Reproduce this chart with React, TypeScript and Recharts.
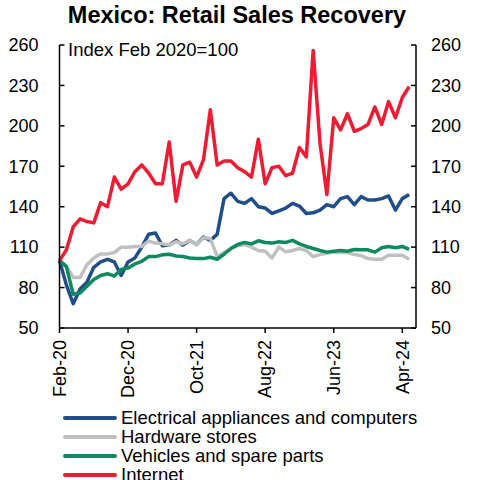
import React from 'react';
import { LineChart, Line, XAxis, YAxis } from 'recharts';

const months = [
  'Feb-20', 'Mar-20', 'Apr-20', 'May-20', 'Jun-20', 'Jul-20', 'Aug-20', 'Sep-20', 'Oct-20', 'Nov-20',
  'Dec-20', 'Jan-21', 'Feb-21', 'Mar-21', 'Apr-21', 'May-21', 'Jun-21', 'Jul-21', 'Aug-21', 'Sep-21',
  'Oct-21', 'Nov-21', 'Dec-21', 'Jan-22', 'Feb-22', 'Mar-22', 'Apr-22', 'May-22', 'Jun-22', 'Jul-22',
  'Aug-22', 'Sep-22', 'Oct-22', 'Nov-22', 'Dec-22', 'Jan-23', 'Feb-23', 'Mar-23', 'Apr-23', 'May-23',
  'Jun-23', 'Jul-23', 'Aug-23', 'Sep-23', 'Oct-23', 'Nov-23', 'Dec-23', 'Jan-24', 'Feb-24', 'Mar-24',
  'Apr-24', 'May-24',
];

const electrical = [
  100, 82, 68, 79, 84, 95, 99, 101, 99, 89,
  99, 102, 110, 119.5, 120.5, 111, 111.5, 115, 111.5, 115,
  112, 117.5, 115, 119.5, 146, 150, 144, 142.5, 146, 140,
  139, 135, 137, 139, 142.5, 140.5, 135, 135.5, 137.5, 141.5,
  140, 146, 147.5, 141.5, 147.5, 145, 145, 146, 148, 137.5,
  146, 149,
];

const hardware = [
  100, 96, 87.5, 87.5, 97, 102, 105, 105, 106, 110,
  110, 110.5, 110.5, 114.5, 113, 112.5, 111.5, 114, 112.5, 115,
  112, 117, 116.5, 103, 106, 109, 111, 112, 110, 107.5,
  107, 102, 110, 106.5, 107.5, 109, 107.5, 103, 104.5, 105.5,
  106.3, 106, 106, 104.5, 103.7, 101.5, 101, 101, 104, 104,
  104, 101,
];

const vehicles = [
  100, 95.5, 75, 76, 81, 86, 89, 90.3, 88.5, 93.5,
  94.5, 97.5, 99.5, 103, 103, 104.3, 104.7, 103.4, 103, 102,
  101.5, 101.5, 102.5, 101, 104.7, 109, 112, 113.5, 112.4, 114.7,
  113.5, 113, 114, 113.5, 115, 112.4, 110.5, 109, 107.5, 106.3,
  107, 107.5, 107, 108.3, 108, 108, 106.3, 109.5, 110.5, 109.5,
  110.5, 108.3,
];

const internet = [
  100, 108, 125, 131, 129, 128, 143, 140, 162, 153,
  157, 166, 171, 165, 157, 157, 188, 144, 171, 173,
  162, 175, 212, 171, 174, 174, 169, 166, 162, 190,
  157, 169, 170, 163, 165, 184, 177, 256, 187, 149,
  206, 197, 209, 196, 198, 201, 214, 201, 218, 206,
  221, 229,
];

const xTicks = [0, 10, 20, 30, 40, 50];
const yTicks = [50, 80, 110, 140, 170, 200, 230, 260];

// internet sits on the right axis (same scale) so that axis gets drawn
const series = [
  { key: 'electrical', name: 'Electrical appliances and computers', color: '#1F4E8A', axis: 'left' },
  { key: 'hardware', name: 'Hardware stores', color: '#C0C0C0', axis: 'left' },
  { key: 'vehicles', name: 'Vehicles and spare parts', color: '#0E8A5C', axis: 'left' },
  { key: 'internet', name: 'Internet', color: '#EE1B33', axis: 'right' },
];

const data = months.map((m, i) => ({
  i,
  month: m,
  electrical: electrical[i],
  hardware: hardware[i],
  vehicles: vehicles[i],
  internet: internet[i],
}));

const FONT = '"Liberation Sans", Arial, sans-serif';
const TICK_GAP_L = 21;
const TICK_GAP_R = 15;
const TICK_LEN = 5;

const XTick = (props: any) => {
  const { x, y, payload } = props;
  return (
    <text
      x={x}
      y={y}
      transform={`rotate(-90, ${x}, ${y})`}
      textAnchor="end"
      dy="0.35em"
      fontSize={18}
      fontFamily={FONT}
      fill="#000"
    >
      {months[payload.value]}
    </text>
  );
};

// y ticks point inward, like the Excel original
const LeftTick = (props: any) => {
  const { x, y, payload } = props;
  const ax = x + TICK_GAP_L;
  return (
    <g>
      <line x1={ax} x2={ax + TICK_LEN} y1={y} y2={y} stroke="#000" strokeWidth={1.5} />
      <text x={x} y={y} dy="0.35em" textAnchor="end" fontSize={18} fontFamily={FONT} fill="#000">
        {payload.value}
      </text>
    </g>
  );
};

const RightTick = (props: any) => {
  const { x, y, payload } = props;
  const ax = x - TICK_GAP_R;
  return (
    <g>
      <line x1={ax - TICK_LEN} x2={ax} y1={y} y2={y} stroke="#000" strokeWidth={1.5} />
      <text x={x} y={y} dy="0.35em" textAnchor="start" fontSize={18} fontFamily={FONT} fill="#000">
        {payload.value}
      </text>
    </g>
  );
};

export default function App() {
  return (
    <div style={{ position: 'absolute', left: 0, top: 0, width: 477, height: 480, background: '#fff', overflow: 'hidden' }}>
      <div
        style={{
          position: 'absolute', left: 0, width: 474, top: 4, textAlign: 'center',
          fontFamily: FONT, fontWeight: 'bold', fontSize: 23.5, lineHeight: 1, color: '#000',
        }}
      >
        Mexico: Retail Sales Recovery
      </div>
      <LineChart width={477} height={480} data={data} margin={{ top: 45, right: 0, bottom: 0, left: 0 }}>
        <XAxis
          dataKey="i"
          type="number"
          domain={[0, 52]}
          ticks={xTicks}
          height={152}
          tickSize={5}
          tickMargin={7}
          tick={<XTick />}
          axisLine={{ stroke: '#000', strokeWidth: 1.5 }}
          tickLine={{ stroke: '#000', strokeWidth: 1.5 }}
          interval={0}
        />
        <YAxis
          yAxisId="left"
          orientation="left"
          width={59.5}
          domain={[50, 260]}
          ticks={yTicks}
          interval={0}
          tickSize={0}
          tickMargin={TICK_GAP_L}
          tick={<LeftTick />}
          tickLine={false}
          axisLine={{ stroke: '#000', strokeWidth: 1.5 }}
        />
        <YAxis
          yAxisId="right"
          orientation="right"
          width={61}
          domain={[50, 260]}
          ticks={yTicks}
          interval={0}
          tickSize={0}
          tickMargin={TICK_GAP_R}
          tick={<RightTick />}
          tickLine={false}
          axisLine={{ stroke: '#000', strokeWidth: 1.5 }}
        />
        {series.map((s) => (
          <Line
            key={s.key}
            yAxisId={s.axis}
            type="linear"
            dataKey={s.key}
            name={s.name}
            stroke={s.color}
            strokeWidth={3.5}
            strokeLinejoin="round"
            dot={false}
            isAnimationActive={false}
          />
        ))}
      </LineChart>
      <div
        style={{
          position: 'absolute', left: 68, top: 41, fontFamily: FONT, fontSize: 18.5,
          lineHeight: 1, color: '#000', whiteSpace: 'nowrap',
        }}
      >
        Index Feb 2020=100
      </div>
      <div style={{ position: 'absolute', left: 63, top: 409, fontFamily: FONT, fontSize: 18.5, color: '#000' }}>
        {series.map((s) => (
          <div key={s.key} style={{ display: 'flex', alignItems: 'center', height: 18.9, whiteSpace: 'nowrap' }}>
            <div style={{ width: 54, height: 4, background: s.color, marginRight: 4, borderRadius: 2 }} />
            <span style={{ lineHeight: 1 }}>{s.name}</span>
          </div>
        ))}
      </div>
    </div>
  );
}
